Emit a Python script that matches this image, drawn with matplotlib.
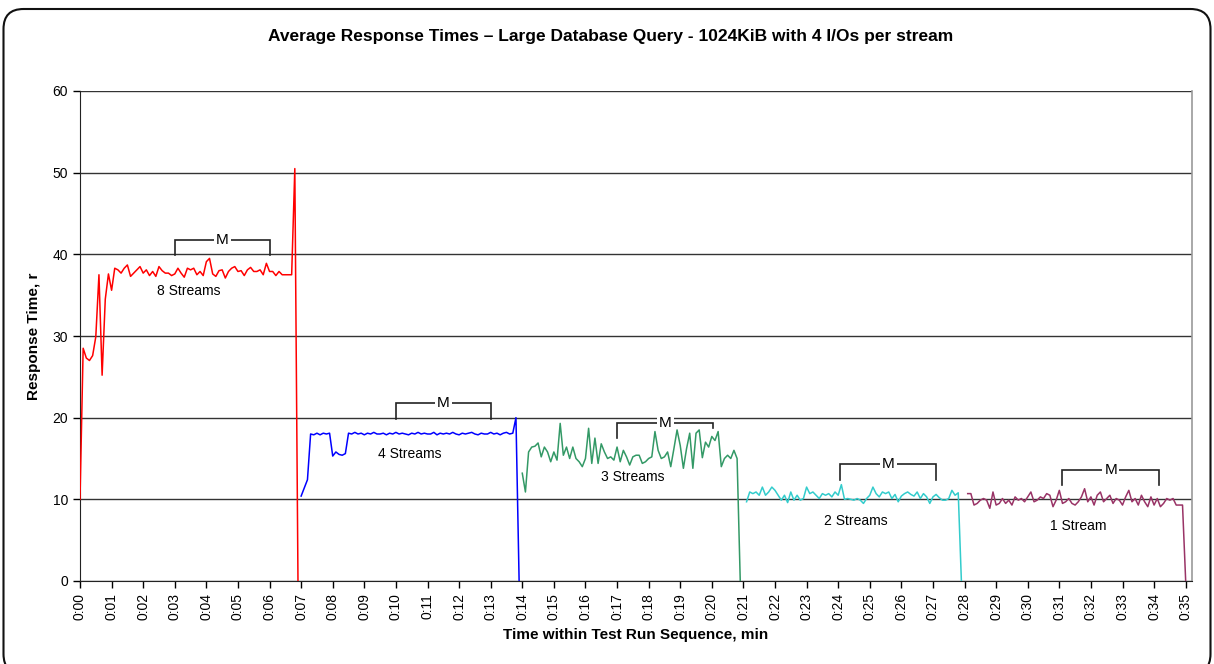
import numpy as np
import matplotlib
matplotlib.use("Agg")
import matplotlib.pyplot as plt
from matplotlib.patches import FancyBboxPatch
from matplotlib.transforms import IdentityTransform

plt.rcParams['font.family'] = ['Liberation Sans', 'DejaVu Sans']

t_step = 0.1

s8_start = 0.0
s8_vals = [10.0, 28.5, 27.3, 27.0, 27.6, 29.9, 37.5, 25.2, 34.5, 37.6,
           35.6, 38.3, 38.1, 37.7, 38.3, 38.7, 37.3, 37.7, 38.1, 38.5,
           37.7, 38.1, 37.4, 37.9, 37.3, 38.5, 38.0, 37.7, 37.7, 37.4,
           37.6, 38.3, 37.7, 37.2, 38.3, 38.1, 38.3, 37.5, 37.9, 37.4,
           39.1, 39.5, 37.6, 37.3, 38.0, 38.1, 37.1, 37.9, 38.3, 38.5,
           37.9, 38.0, 37.4, 38.1, 38.4, 37.9, 37.9, 38.1, 37.5, 38.9,
           37.9, 37.9, 37.4, 37.9, 37.5, 37.5, 37.5, 37.5, 50.5, 0.0]

s4_start = 7.0
s4_vals = [10.4, 11.4, 12.4, 18.0, 17.9, 18.1, 17.9, 18.1, 18.0, 18.1,
           15.3, 15.8, 15.5, 15.4, 15.6, 18.1, 18.0, 18.2, 18.0, 18.1,
           17.9, 18.1, 18.0, 18.2, 18.0, 18.0, 18.1, 17.9, 18.1, 18.0,
           18.2, 18.0, 18.1, 18.0, 17.9, 18.1, 18.0, 18.2, 18.0, 18.1,
           18.0, 18.0, 18.2, 17.9, 18.1, 18.0, 18.1, 18.0, 18.2, 18.0,
           17.9, 18.1, 18.0, 18.1, 18.2, 18.0, 17.9, 18.1, 18.0, 18.0,
           18.2, 18.0, 18.1, 17.9, 18.1, 18.2, 18.0, 18.1, 20.0, 0.0]

s3_start = 14.0
s3_vals = [13.2, 10.9, 15.8, 16.4, 16.5, 16.9, 15.2, 16.4, 15.8, 14.6,
           15.8, 14.8, 19.3, 15.4, 16.4, 15.0, 16.4, 15.0, 14.6, 14.0,
           15.0, 18.7, 14.4, 17.5, 14.4, 16.8, 15.8, 15.0, 15.2, 14.8,
           16.4, 14.6, 16.0, 15.2, 14.2, 15.2, 15.4, 15.4, 14.4, 14.6,
           15.0, 15.2, 18.3, 16.0, 15.0, 15.2, 15.8, 14.0, 16.2, 18.5,
           16.6, 13.8, 16.2, 18.1, 13.8, 18.1, 18.5, 15.1, 17.0, 16.4,
           17.7, 17.2, 18.3, 14.0, 15.0, 15.4, 15.0, 16.0, 15.0, 0.0]

s2_start = 21.1
s2_vals = [9.7, 10.9, 10.7, 10.9, 10.5, 11.5, 10.5, 10.9, 11.5,
           11.1, 10.5, 9.9, 10.5, 9.6, 10.9, 9.9, 10.5, 9.9, 10.1,
           11.5, 10.7, 10.9, 10.5, 10.1, 10.7, 10.5, 10.7, 10.3, 10.9,
           10.5, 11.8, 10.0, 10.1, 10.0, 9.9, 10.1, 9.9, 9.5, 10.1,
           10.5, 11.5, 10.7, 10.3, 10.9, 10.7, 10.9, 10.1, 10.6, 9.7,
           10.4, 10.7, 10.9, 10.6, 10.4, 10.9, 10.1, 10.7, 10.3, 9.5,
           10.3, 10.6, 10.2, 9.9, 9.9, 10.1, 11.1, 10.5, 10.8, 0.0]

s1_start = 28.1
s1_vals = [10.7, 10.7, 9.3, 9.5, 9.9, 10.1, 9.9, 8.9, 10.9,
           9.3, 9.5, 10.1, 9.5, 9.9, 9.3, 10.3, 9.9, 10.1, 9.7,
           10.3, 10.9, 9.7, 9.9, 10.3, 10.1, 10.7, 10.5, 9.1, 9.9,
           11.1, 9.5, 9.7, 10.1, 9.5, 9.3, 9.7, 10.3, 11.3, 9.7,
           10.3, 9.3, 10.5, 10.9, 9.7, 10.1, 10.5, 9.5, 10.1, 9.9,
           9.3, 10.3, 11.1, 9.7, 10.1, 9.3, 10.5, 9.7, 9.1, 10.3,
           9.3, 10.1, 9.1, 9.5, 10.1, 9.9, 10.1, 9.3, 9.3, 9.3,
           0.0]

series_labels = ['8 Streams', '4 Streams', '3 Streams', '2 Streams', '1 Stream']
series_colors = ['#FF0000', '#0000FF', '#339966', '#33CCCC', '#993366']
minute_ticks = list(range(36))
tick_labels = ['0:%02d' % m for m in minute_ticks]

series = [(s8_start, s8_vals), (s4_start, s4_vals), (s3_start, s3_vals),
          (s2_start, s2_vals), (s1_start, s1_vals)]

# label positions and "M" bracket spans (x0, x1, top, left foot, right foot)
label_pos = [(3.45, 35.5), (10.45, 15.5), (17.5, 12.7), (24.55, 7.4), (31.6, 6.7)]
brackets = [(3.0, 6.0, 41.7, 39.9, 39.9),
            (10.0, 13.0, 21.75, 19.8, 19.8),
            (17.0, 20.05, 19.4, 17.5, 18.7),
            (24.07, 27.1, 14.3, 12.4, 12.4),
            (31.1, 34.15, 13.6, 11.75, 11.75)]

fig = plt.figure(figsize=(12.14, 6.64), dpi=100)
# rounded chart-area frame, in pixels (bottom edge runs off the image)
fig.patches.append(FancyBboxPatch((3.5, -10), 1207, 665,
                                  boxstyle="round,pad=0,rounding_size=20",
                                  transform=IdentityTransform(), fill=False,
                                  edgecolor='#111111', linewidth=1.5))
ax = fig.add_axes([80 / 1214, 1 - 581 / 664, 1112 / 1214, 490 / 664])

for (t0, vals), col in zip(series, series_colors):
    t = t0 + t_step * np.arange(len(vals))
    ax.plot(t, vals, color=col, linewidth=1.1, zorder=3)

for (lx, ly), txt in zip(label_pos, series_labels):
    ax.text(lx, ly, txt, ha='center', va='center', fontsize=10, zorder=5)

for x0, x1, top, f0, f1 in brackets:
    ax.plot([x0, x0, x1, x1], [f0, top, top, f1], color='#222222',
            linewidth=1.2, zorder=4, solid_joinstyle='miter')
    ax.text((x0 + x1) / 2, top, 'M', ha='center', va='center', fontsize=11,
            zorder=6, bbox=dict(facecolor='white', edgecolor='none', pad=1.5))

ax.set_xlim(0, 35.2)
ax.set_ylim(0, 60)
ax.set_yticks(range(0, 61, 10))
ax.set_xticks(minute_ticks)
ax.set_xticklabels(tick_labels, rotation=90, fontsize=10)
ax.tick_params(axis='y', labelsize=10, direction='out', length=5, width=1)
ax.tick_params(axis='x', direction='out', length=5, width=1)
ax.yaxis.grid(True, color='#333333', linewidth=1.0, zorder=1)
ax.set_axisbelow(True)
for side in ['left', 'bottom']:
    ax.spines[side].set_color('#222222')
ax.spines['top'].set_visible(False)
ax.spines['right'].set_color('#999999')
ax.spines['right'].set_linewidth(1.2)

ax.set_xlabel('Time within Test Run Sequence, min', fontsize=11,
              fontweight='bold', labelpad=6)
ax.set_ylabel('Response Time, r', fontsize=11, fontweight='bold', labelpad=8)
fig.text(611 / 1214, 1 - 36 / 664, 'Average Response Times \u2013 Large Database Query - 1024KiB with 4 I/Os per stream',
         ha='center', va='center', fontsize=12.5, fontweight='bold')

fig.savefig('out.png', dpi=100)
